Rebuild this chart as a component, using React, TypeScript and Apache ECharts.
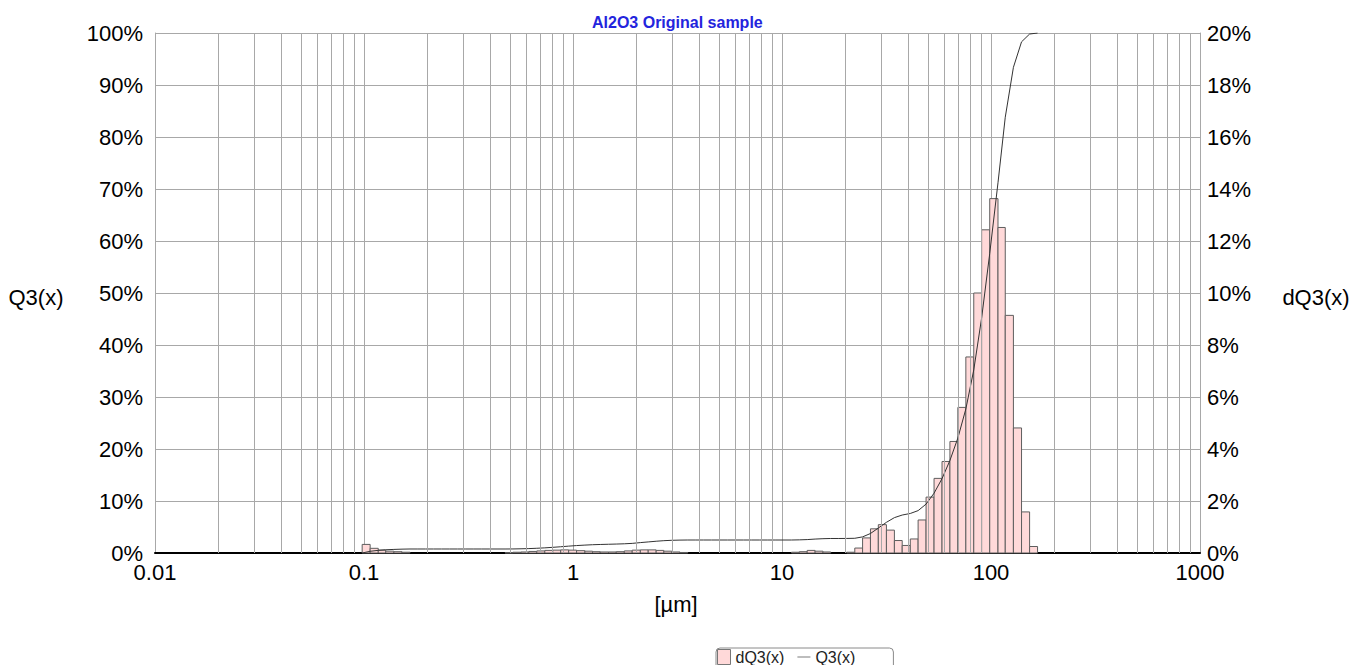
import React, { useEffect, useRef } from "react";
import * as echarts from "echarts";

// Particle size class edges [µm]
const classEdges = [
  0.098, 0.107, 0.117, 0.127, 0.139, 0.152, 0.166, 0.181, 0.197, 0.215,
  0.235, 0.256, 0.28, 0.305, 0.333, 0.364, 0.397, 0.433, 0.473, 0.516,
  0.564, 0.615, 0.671, 0.733, 0.8, 0.873, 0.953, 1.04, 1.14, 1.24,
  1.35, 1.48, 1.61, 1.76, 1.92, 2.1, 2.29, 2.5, 2.72, 2.97,
  3.25, 3.54, 3.87, 4.22, 4.6, 5.03, 5.49, 5.99, 6.53, 7.13,
  7.78, 8.5, 9.27, 10.1, 11.1, 12.1, 13.2, 14.4, 15.7, 17.1,
  18.7, 20.4, 22.3, 24.3, 26.5, 28.9, 31.6, 34.5, 37.6, 41.1,
  44.8, 48.9, 53.4, 58.3, 63.6, 69.4, 75.8, 82.7, 90.2, 98.6,
  108, 117, 128, 140, 153, 167,
];

// dQ3(x) per class [%] (right axis)
const dQ3Values = [
  0.33, 0.18, 0.11, 0.07, 0.05, 0.03, 0, 0, 0, 0,
  0, 0, 0, 0, 0, 0, 0, 0, 0.01, 0.03,
  0.04, 0.06, 0.08, 0.1, 0.11, 0.12, 0.11, 0.09, 0.07, 0.05,
  0.04, 0.04, 0.05, 0.08, 0.11, 0.12, 0.12, 0.1, 0.07, 0.04,
  0.02, 0, 0, 0, 0, 0, 0, 0, 0, 0,
  0, 0, 0, 0, 0.03, 0.05, 0.1, 0.07, 0.04, 0,
  0, 0.03, 0.19, 0.58, 0.93, 1.09, 0.88, 0.48, 0.29, 0.54,
  1.27, 2.15, 2.87, 3.52, 4.29, 5.6, 7.54, 10.0, 12.43, 13.63,
  12.52, 9.14, 4.81, 1.58, 0.25,
];

// Q3(x) cumulative at class edges [%] (left axis)
const q3Values = [
  0, 0.33, 0.51, 0.62, 0.69, 0.74, 0.77, 0.77, 0.77, 0.77,
  0.77, 0.77, 0.77, 0.77, 0.77, 0.77, 0.77, 0.77, 0.77, 0.78,
  0.81, 0.85, 0.91, 0.99, 1.09, 1.2, 1.32, 1.43, 1.52, 1.59,
  1.64, 1.68, 1.72, 1.77, 1.85, 2.0, 2.13, 2.26, 2.37, 2.44,
  2.48, 2.5, 2.5, 2.5, 2.5, 2.5, 2.5, 2.5, 2.5, 2.5,
  2.5, 2.5, 2.5, 2.5, 2.5, 2.53, 2.58, 2.68, 2.75, 2.79,
  2.79, 2.8, 2.83, 3.1, 3.75, 4.8, 5.9, 6.8, 7.3, 7.6,
  8.15, 9.4, 11.5, 14.3, 17.8, 22.1, 27.7, 35.2, 45.2, 57.6,
  71.2, 83.8, 93.4, 98.3, 99.8, 100,
];

const titleText = "Al2O3 Original sample";
const xName = "[µm]";
const leftName = "Q3(x)";
const rightName = "dQ3(x)";
const decadeStarts = [0.01, 0.1, 1, 10, 100];
const minorMultipliers = [2, 3, 4, 5, 6, 7, 8, 9];

const FONT = "'Liberation Sans', Arial, sans-serif";
const LABEL_SIZE = 22;

export default function App() {
  const ref = useRef<HTMLDivElement>(null);

  useEffect(() => {
    const chart = echarts.init(ref.current!, null, { renderer: "svg" });

    const barData = dQ3Values
      .map((v, i) => [classEdges[i], classEdges[i + 1], v])
      .filter((d) => d[2] > 0);
    const lineData = classEdges.map((x, i) => [x, q3Values[i]]);

    const minorLines: any[] = [];
    decadeStarts.forEach((d) =>
      minorMultipliers.forEach((m) => minorLines.push({ xAxis: +(m * d).toPrecision(6) }))
    );

    const gridColor = "#a8a8a8";
    const nameStyle = (text: string) => ({
      text,
      fill: "#000",
      font: `${LABEL_SIZE}px ${FONT}`,
      textAlign: "center",
      textVerticalAlign: "middle",
    });

    chart.setOption({
      animation: false,
      backgroundColor: "#ffffff",
      title: {
        text: titleText,
        left: 587,
        top: 9,
        textStyle: { color: "#2424dd", fontSize: 16, fontWeight: "bold", fontFamily: FONT },
      },
      legend: {
        left: 716,
        top: 648,
        padding: [1, 38, 4, 1],
        itemWidth: 13,
        itemHeight: 15,
        itemGap: 13,
        borderColor: "#8a8a8a",
        borderWidth: 1,
        borderRadius: 4,
        textStyle: { fontSize: 16, color: "#222", fontFamily: FONT },
        data: [
          { name: "dQ3(x)", icon: "rect", itemStyle: { color: "#ffd9d9", borderColor: "#777", borderWidth: 1 } },
          { name: "Q3(x)", icon: "path://M0,0L20,0L20,1L0,1Z", itemStyle: { color: "#333" } },
        ],
      },
      grid: { left: 155, top: 33, width: 1045, height: 520, containLabel: false },
      xAxis: {
        type: "log",
        logBase: 10,
        min: 0.01,
        max: 1000,
        axisLine: { show: true, lineStyle: { color: "#000", width: 2 } },
        axisTick: { show: false },
        axisLabel: {
          show: true,
          margin: 8,
          fontSize: LABEL_SIZE,
          color: "#000",
          fontFamily: FONT,
          showMinLabel: true,
          showMaxLabel: true,
          formatter: (v: number) => String(+(+v).toPrecision(6)),
        },
        splitLine: { show: true, lineStyle: { color: gridColor, width: 1 } },
      },
      yAxis: [
        {
          type: "value",
          min: 0,
          max: 100,
          interval: 10,
          position: "left",
          axisLine: { show: true, lineStyle: { color: gridColor } },
          axisTick: { show: false },
          axisLabel: { margin: 12, fontSize: LABEL_SIZE, color: "#000", fontFamily: FONT, formatter: "{value}%" },
          splitLine: { show: true, lineStyle: { color: gridColor, width: 1 } },
        },
        {
          type: "value",
          min: 0,
          max: 20,
          interval: 2,
          position: "right",
          axisLine: { show: true, lineStyle: { color: gridColor } },
          axisTick: { show: false },
          axisLabel: { margin: 7, fontSize: LABEL_SIZE, color: "#000", fontFamily: FONT, formatter: "{value}%" },
          splitLine: { show: false },
        },
      ],
      graphic: [
        { type: "text", x: 36, y: 297, style: nameStyle(leftName) },
        { type: "text", x: 1316, y: 297, style: nameStyle(rightName) },
        { type: "text", x: 676, y: 604, style: nameStyle(xName) },
      ],
      series: [
        {
          name: "minorGrid",
          type: "line",
          xAxisIndex: 0,
          yAxisIndex: 0,
          data: [[0.01, 0]],
          symbol: "none",
          lineStyle: { opacity: 0 },
          z: 1,
          silent: true,
          markLine: {
            silent: true,
            symbol: ["none", "none"],
            label: { show: false },
            lineStyle: { color: gridColor, type: "solid", width: 1 },
            emphasis: { disabled: true },
            data: minorLines,
          },
        },
        {
          name: "dQ3(x)",
          type: "custom",
          coordinateSystem: "cartesian2d",
          xAxisIndex: 0,
          yAxisIndex: 1,
          z: 3,
          encode: { x: [0, 1], y: 2 },
          data: barData,
          itemStyle: { color: "#ffd9d9" },
          renderItem: (params: any, api: any) => {
            const lo = api.value(0);
            const hi = api.value(1);
            const v = api.value(2);
            const p0 = api.coord([lo, 0]);
            const p1 = api.coord([hi, v]);
            return {
              type: "rect",
              shape: { x: p0[0], y: p1[1], width: p1[0] - p0[0], height: p0[1] - p1[1] },
              style: { fill: "#ffd9d9", stroke: "#5e5e5e", lineWidth: 1 },
            };
          },
        },
        {
          name: "Q3(x)",
          type: "line",
          xAxisIndex: 0,
          yAxisIndex: 0,
          z: 4,
          data: lineData,
          symbol: "none",
          showSymbol: false,
          itemStyle: { color: "#333" },
          lineStyle: { color: "#333", width: 1 },
        },
      ],
    });

    return () => chart.dispose();
  }, []);

  return (
    <div
      ref={ref}
      style={{ position: "fixed", left: 0, top: 0, width: 1359, height: 665, background: "#fff" }}
    />
  );
}
